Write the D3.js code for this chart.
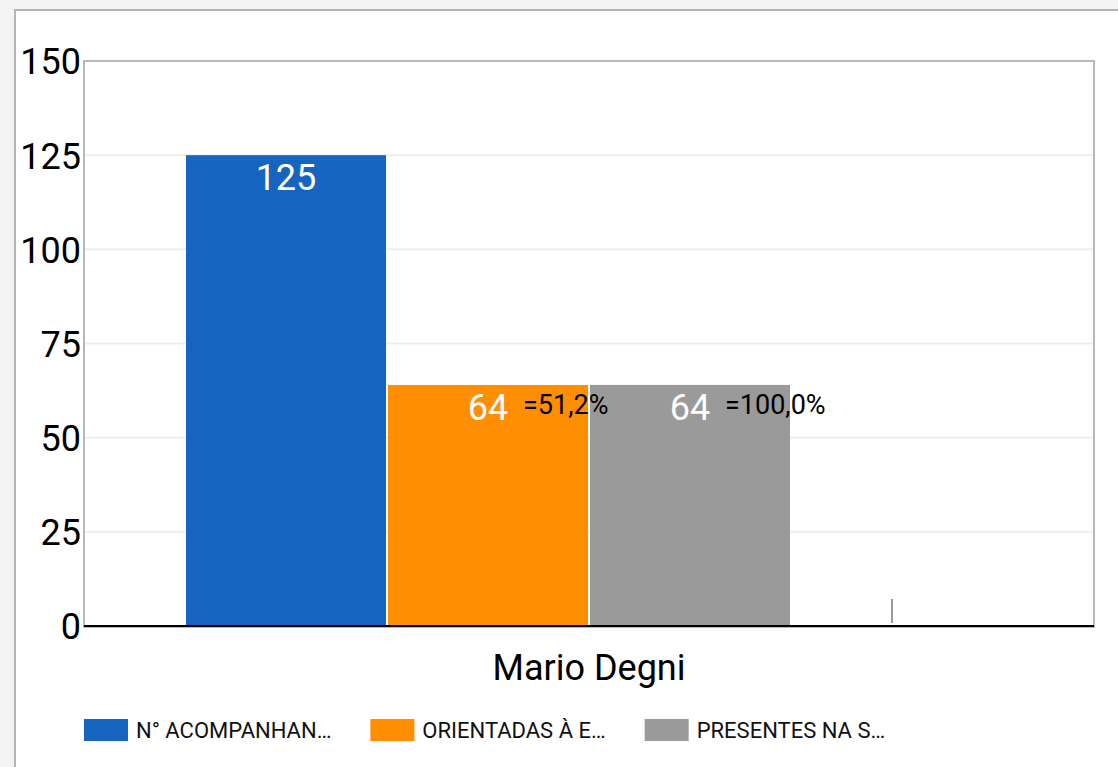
<!DOCTYPE html>
<html><head><meta charset="utf-8">
<script src="https://cdn.jsdelivr.net/npm/d3@7"></script>
<style>
html,body{margin:0;padding:0;background:#f3f3f3;overflow:hidden;}
svg{display:block;font-family:Roboto,"Noto Sans",sans-serif;}
</style></head><body>
<svg id="c" width="1118" height="767"></svg>
<script>
const categories = ["Mario Degni"];
const seriesNames = ["N° ACOMPANHANTES", "ORIENTADAS À ESCOLA", "PRESENTES NA SALA", "SÉRIE 4"];
const legendLabels = ["N° ACOMPANHAN…", "ORIENTADAS À E…", "PRESENTES NA S…"];
const seriesValues = [125, 64, 64, 0];
const percentLabels = [null, "=51,2%", "=100,0%", null];
const colors = ["#1565c0", "#ff8f00", "#9a9a9a", "#9a9a9a"];
const yTicks = [0, 25, 50, 75, 100, 125, 150];

(function () {
const svg = d3.select("#c");
// frame
svg.append("rect").attr("x", 15).attr("y", 10).attr("width", 1200).attr("height", 800)
  .attr("fill", "#fff").attr("stroke", "#b5b5b5").attr("stroke-width", 2);

const pLeft = 84, pRight = 1094, pTop = 61, pBottom = 626;
const x0 = d3.scaleBand().domain(categories).range([pLeft, pRight]).paddingInner(0).paddingOuter(0.1);
const y = d3.scaleLinear().domain([0, 150]).range([pBottom, pTop]);
const groupW = 806;
const x1 = d3.scaleBand().domain(seriesNames).range([0, groupW]).paddingInner(0.01);

// gridlines
svg.append("g").selectAll("line").data(yTicks.filter(t => t > 0 && t < 150)).join("line")
  .attr("x1", pLeft).attr("x2", pRight).attr("y1", d => y(d)).attr("y2", d => y(d))
  .attr("stroke", "#eeeeee").attr("stroke-width", 2);

// plot border
svg.append("rect").attr("x", pLeft).attr("y", pTop).attr("width", pRight - pLeft).attr("height", pBottom - pTop + 1)
  .attr("fill", "none").attr("stroke", "#b8b8b8").attr("stroke-width", 2);

// y axis labels
const yAxis = d3.axisLeft(y).tickValues(yTicks).tickSize(0).tickPadding(3);
const ga = svg.append("g").attr("transform", `translate(${pLeft},0)`).call(yAxis);
ga.select(".domain").remove();
ga.selectAll("text").attr("font-size", 36).attr("fill", "#000").attr("font-family", "Roboto")
  .attr("dy", "0.36em");

// bars
categories.forEach(cat => {
  const gx = x0(cat) + x0.bandwidth() / 2 - groupW / 2;
  const g = svg.append("g").attr("transform", `translate(${gx},0)`);
  const data = seriesNames.map((s, i) => ({ s, v: seriesValues[i], c: colors[i], p: percentLabels[i] }));
  g.selectAll("rect").data(data.filter(d => d.v > 0)).join("rect")
    .attr("x", d => x1(d.s)).attr("width", x1.bandwidth())
    .attr("y", d => y(d.v)).attr("height", d => y(0) - y(d.v)).attr("fill", d => d.c);
  g.selectAll("text.val").data(data.filter(d => d.v > 0)).join("text").attr("class", "val")
    .attr("x", d => x1(d.s) + x1.bandwidth() / 2).attr("y", d => y(d.v) + 35)
    .attr("text-anchor", "middle").attr("font-size", 36).attr("fill", "#fff").text(d => d.v);
  g.selectAll("text.pct").data(data.filter(d => d.p)).join("text").attr("class", "pct")
    .attr("x", d => x1(d.s) + x1.bandwidth() / 2 + 35).attr("y", d => y(d.v) + 29)
    .attr("font-size", 27).attr("fill", "#000").text(d => d.p);
  // zero-value marker
  g.selectAll("line.zero").data(data.filter(d => d.v === 0)).join("line").attr("class", "zero")
    .attr("x1", d => x1(d.s) + x1.bandwidth() / 2).attr("x2", d => x1(d.s) + x1.bandwidth() / 2)
    .attr("y1", y(0) - 27).attr("y2", y(0) - 3).attr("stroke", "#999").attr("stroke-width", 2);
});

// baseline
svg.append("line").attr("x1", pLeft).attr("x2", pRight).attr("y1", y(0)).attr("y2", y(0))
  .attr("stroke", "#000").attr("stroke-width", 2);

// x label
svg.selectAll("text.cat").data(categories).join("text").attr("class", "cat")
  .attr("x", d => x0(d) + x0.bandwidth() / 2).attr("y", 680).attr("text-anchor", "middle")
  .attr("font-size", 36).attr("fill", "#000").text(d => d);

// legend
const lg = svg.append("g");
let lx = 84;
legendLabels.forEach((l, i) => {
  lg.append("rect").attr("x", lx).attr("y", 719).attr("width", 44).attr("height", 22).attr("fill", colors[i]);
  const t = lg.append("text").attr("x", lx + 52).attr("y", 738).attr("font-size", 22)
    .attr("fill", "#111").text(l);
  const w = t.node().getComputedTextLength();
  lx = lx + 52 + w + 39;
});
})();
</script></body></html>
